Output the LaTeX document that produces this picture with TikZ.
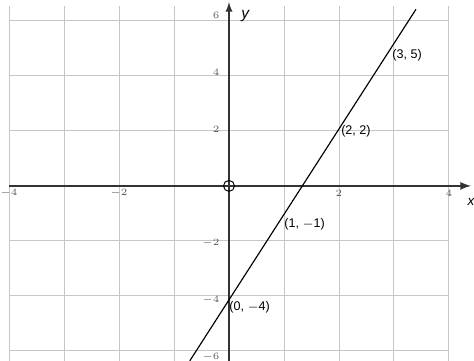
\documentclass[tikz,border=0pt]{standalone}
\usepackage{fontspec}
\setmainfont{Liberation Sans}
\begin{document}
\begin{tikzpicture}[x=1cm, y=0.518cm, >=latex,
    every node/.style={font=\fontsize{6.5}{7}\selectfont},
    tick/.style={font=\fontsize{3.5}{4}\selectfont, gray!70!black},
    pointlabel/.style={inner sep=1pt}]
  % Frame
  \useasboundingbox (-4.164,-6.14) rectangle (4.455,6.526);
  % Grid
  \draw[gray!45, line width=0.5pt] (-4,-6.14) grid (4,6);
  \foreach \gx in {-4,...,4} \draw[gray!45, line width=0.5pt] (\gx,6) -- (\gx,6.3);
  % Axes
  \draw[->, line width=0.9pt, black!80] (-4,0) -- (4.4,0) coordinate (xend);
  \draw[->, line width=0.7pt, black!80] (0,-6.14) -- (0,6.45) coordinate (yend);
  \node[font=\fontsize{7}{8}\selectfont\itshape, anchor=north] (xlab) at (4.4,-0.2) {x};
  \node[font=\fontsize{8}{9}\selectfont\itshape, anchor=west] (ylab) at (0.1,5.95) {y};
  % Origin
  \node[circle, draw, line width=0.5pt, minimum size=0.2cm, inner sep=0pt] (orig) at (0,0) {};
  % Tick labels
  \foreach \tx in {-4,-2,2,4} \node[tick] (tx\tx) at (\tx,-0.25) {$\tx$};
  \foreach \ty in {-6,-4,-2,2,4,6} \node[tick, anchor=east] (ty\ty) at (-0.05,\ty) {$\ty$};
  % Points on the line
  \coordinate (lo) at (-0.713,-6.14);
  \coordinate (p1) at (0,-4);
  \coordinate (p2) at (1,-1);
  \coordinate (p3) at (2,2);
  \coordinate (p4) at (3,5);
  \coordinate (hi) at (3.4,6.2);
  % Line y = 3x - 4
  \draw[line width=0.6pt] (lo) -- (p1) -- (p2) -- (p3) -- (p4) -- (hi);
  % Labels
  \node[pointlabel, anchor=west] (l1) at ([xshift=-1pt,yshift=-4pt]p1) {(0, $-$4)};
  \node[pointlabel, anchor=west] (l2) at ([xshift=-1pt,yshift=-5pt]p2) {(1, $-$1)};
  \node[pointlabel, anchor=west] (l3) at ([xshift=0pt,yshift=-1pt]p3) {(2, 2)};
  \node[pointlabel, anchor=west] (l4) at ([xshift=-2pt,yshift=-6pt]p4) {(3, 5)};
\end{tikzpicture}
\end{document}
